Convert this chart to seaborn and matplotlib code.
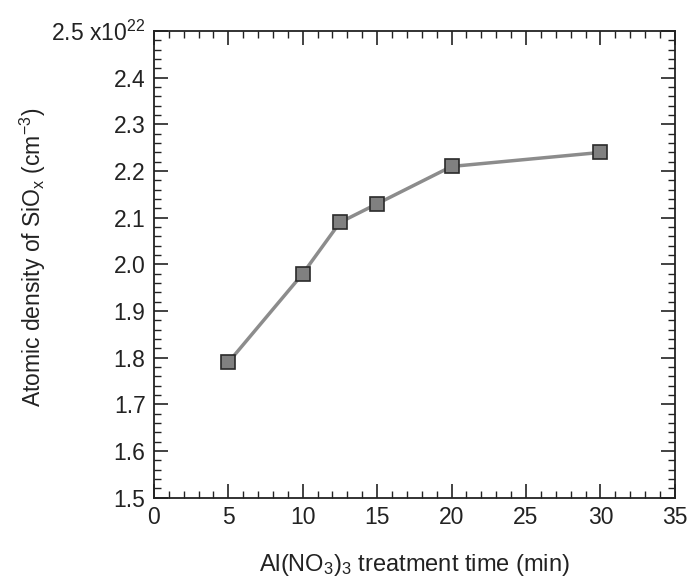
import matplotlib
matplotlib.use("Agg")
import matplotlib.pyplot as plt
import seaborn as sns
import pandas as pd
import numpy as np
from matplotlib.ticker import MultipleLocator, FixedLocator, FixedFormatter

time_min = [5, 10, 12.5, 15, 20, 30]
density = [1.79, 1.98, 2.09, 2.13, 2.21, 2.24]
y_ticks = [1.5, 1.6, 1.7, 1.8, 1.9, 2.0, 2.1, 2.2, 2.3, 2.4, 2.5]
y_tick_labels = ["1.5", "1.6", "1.7", "1.8", "1.9", "2.0", "2.1", "2.2", "2.3", "2.4",
                 "2.5 x10$^{22}$"]
x_ticks = [0, 5, 10, 15, 20, 25, 30, 35]

sns.set_style("ticks")
plt.rcParams['font.family'] = ['Liberation Sans', 'DejaVu Sans']
plt.rcParams['mathtext.fontset'] = 'custom'
plt.rcParams['mathtext.rm'] = 'Liberation Sans'
plt.rcParams['mathtext.it'] = 'Liberation Sans'

df = pd.DataFrame({"t": time_min, "d": density})

fig = plt.figure(figsize=(6.9, 5.87), dpi=100)
ax = fig.add_axes([0.223, 0.152, 0.755, 0.795])

sns.lineplot(data=df, x="t", y="d", ax=ax, color="#8c8c8c", linewidth=2.5,
             marker="s", markersize=10, markerfacecolor="#808080",
             markeredgecolor="#2a2a2a", markeredgewidth=1.2)

ax.set_xlim(0, 35)
ax.set_ylim(1.5, 2.5)
ax.xaxis.set_major_locator(FixedLocator(x_ticks))
ax.xaxis.set_minor_locator(MultipleLocator(1))
ax.yaxis.set_major_locator(FixedLocator(y_ticks))
ax.yaxis.set_major_formatter(FixedFormatter(y_tick_labels))
ax.yaxis.set_minor_locator(MultipleLocator(0.02))

for s in ax.spines.values():
    s.set_visible(True)
    s.set_linewidth(1.3)
    s.set_color("#222222")

ax.tick_params(which="both", direction="in", top=True, right=True, color="#222222")
ax.tick_params(which="major", length=10, width=1.2, labelsize=16.5, pad=6, colors="#222222")
ax.tick_params(which="minor", length=5, width=1.0)

ax.set_xlabel("Al(NO$_3$)$_3$ treatment time (min)", fontsize=17, color="#222222", va="center")
ax.set_ylabel("Atomic density of SiO$_x$ (cm$^{-3}$)", fontsize=16.5, color="#222222", va="center")
ax.xaxis.set_label_coords(0.5, -0.143)
ax.yaxis.set_label_coords(-0.232, 0.515)

fig.savefig("out.png", dpi=100)
